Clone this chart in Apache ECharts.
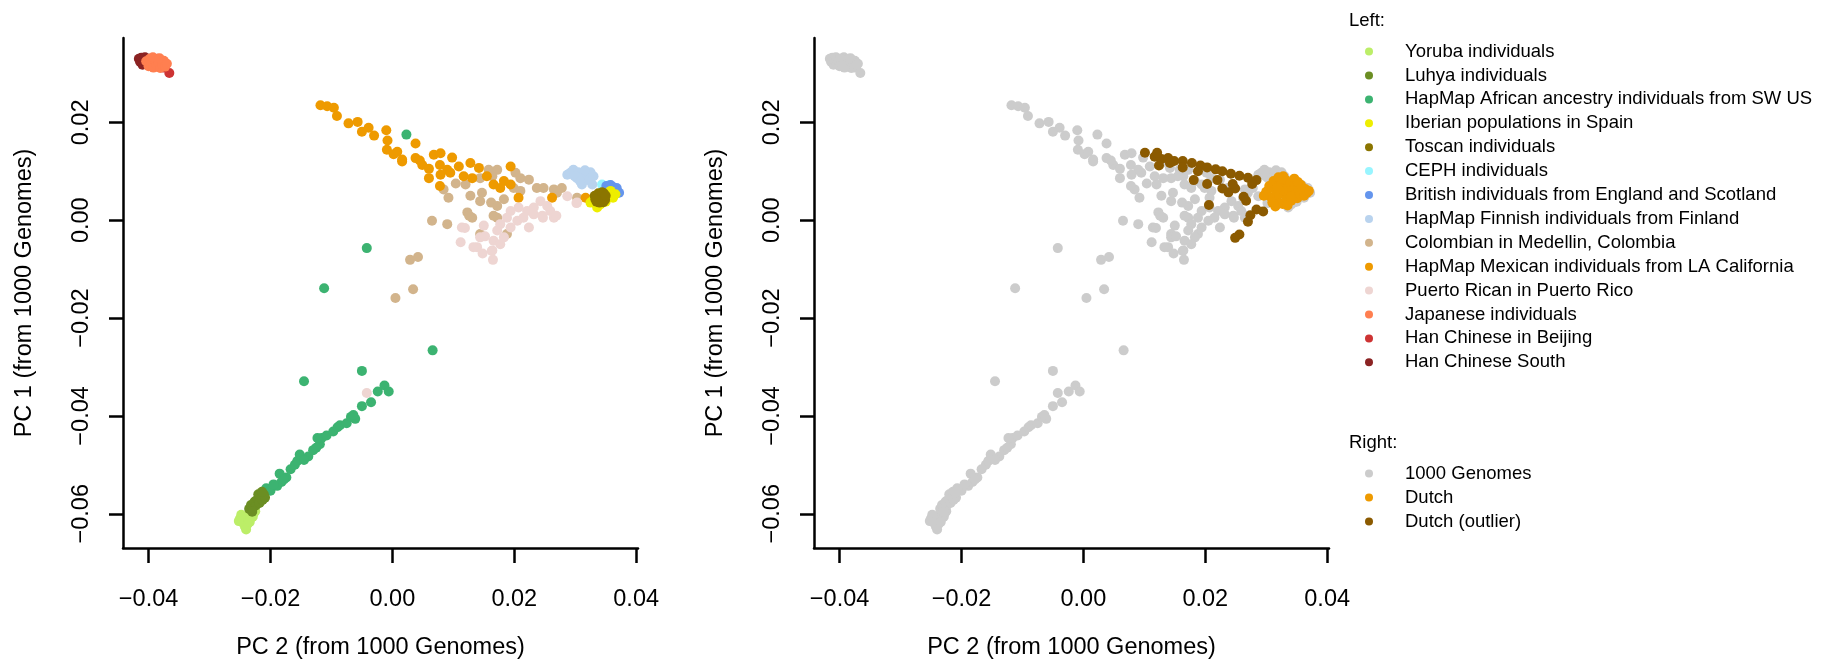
<!DOCTYPE html>
<html>
<head>
<meta charset="utf-8">
<script src="https://cdn.jsdelivr.net/npm/echarts@6/dist/echarts.min.js"></script>
<style>
  html, body { margin: 0; padding: 0; background: #fff; }
  #chart { width: 1822px; height: 665px; }
</style>
</head>
<body>
<div id="chart"></div>
<script>
// tick labels
var xTicks = [-0.04, -0.02, 0, 0.02, 0.04];
var yTicks = [-0.06, -0.04, -0.02, 0, 0.02];

// PC2 (x), PC1 (y) per population
var yoruba = [[-0.0250,-0.0610],[-0.0246,-0.0618],[-0.0244,-0.0606],[-0.0240,-0.0612],[-0.0238,-0.0622],[-0.0236,-0.0603],[-0.0233,-0.0610],[-0.0231,-0.0600],[-0.0229,-0.0606],[-0.0227,-0.0598],[-0.0242,-0.0626],[-0.0240,-0.0632],[-0.0248,-0.0602],[-0.0234,-0.0617],[-0.0225,-0.0595],[-0.0252,-0.0615]];
var luhya = [[-0.0235,-0.0590],[-0.0232,-0.0582],[-0.0229,-0.0588],[-0.0226,-0.0575],[-0.0224,-0.0583],[-0.0221,-0.0570],[-0.0218,-0.0578],[-0.0216,-0.0565],[-0.0213,-0.0572],[-0.0211,-0.0560],[-0.0209,-0.0567],[-0.0230,-0.0596],[-0.0220,-0.0560],[-0.0214,-0.0555]];
var asw = [[-0.0207,-0.0548],[-0.0200,-0.0553],[-0.0189,-0.0543],[-0.0182,-0.0535],[-0.0174,-0.0526],[-0.0185,-0.0518],[-0.0178,-0.0530],[-0.0167,-0.0509],[-0.0160,-0.0500],[-0.0156,-0.0492],[-0.0152,-0.0479],[-0.0138,-0.0483],[-0.0145,-0.0490],[-0.0130,-0.0470],[-0.0119,-0.0458],[-0.0125,-0.0465],[-0.0116,-0.0445],[-0.0123,-0.0445],[-0.0108,-0.0440],[-0.0097,-0.0432],[-0.0090,-0.0423],[-0.0086,-0.0419],[-0.0075,-0.0415],[-0.0068,-0.0402],[-0.0061,-0.0406],[-0.0064,-0.0398],[-0.0050,-0.0380],[-0.0035,-0.0372],[-0.0024,-0.0350],[-0.0013,-0.0338],[-0.0006,-0.0350],[-0.0050,-0.0308],[-0.0145,-0.0329],[-0.0112,-0.0139],[-0.0042,-0.0057],[0.0023,0.0175],[0.0066,-0.0266],[-0.0210,-0.0556],[-0.0195,-0.0540]];
var iberian = [[0.0325,0.0036],[0.0336,0.0026],[0.0341,0.0032],[0.0355,0.0049],[0.0358,0.0060],[0.0366,0.0053],[0.0362,0.0046],[0.0330,0.0042],[0.0350,0.0038]];
var toscan = [[0.0332,0.0050],[0.0336,0.0044],[0.0338,0.0055],[0.0341,0.0040],[0.0343,0.0050],[0.0345,0.0046],[0.0347,0.0055],[0.0349,0.0042],[0.0340,0.0036],[0.0335,0.0038],[0.0346,0.0037],[0.0339,0.0048],[0.0344,0.0057],[0.0350,0.0050],[0.0333,0.0043]];
var ceph = [[0.0344,0.0073],[0.0350,0.0068],[0.0356,0.0072],[0.0360,0.0066]];
var british = [[0.0351,0.0070],[0.0358,0.0072],[0.0362,0.0068],[0.0366,0.0063],[0.0369,0.0058],[0.0372,0.0056],[0.0364,0.0052],[0.0368,0.0066],[0.0356,0.0064]];
var finnish = [[0.0287,0.0093],[0.0292,0.0097],[0.0297,0.0103],[0.0303,0.0086],[0.0305,0.0098],[0.0311,0.0073],[0.0313,0.0090],[0.0319,0.0093],[0.0322,0.0082],[0.0328,0.0073],[0.0330,0.0090],[0.0325,0.0098],[0.0316,0.0102],[0.0299,0.0090],[0.0308,0.0080]];
var colombian = [[0.0158,0.0103],[0.0172,0.0103],[0.0164,0.0090],[0.0144,0.0086],[0.0120,0.0073],[0.0147,0.0056],[0.0144,0.0039],[0.0162,0.0036],[0.0172,0.0029],[0.0183,0.0043],[0.0202,0.0097],[0.0210,0.0086],[0.0224,0.0083],[0.0199,0.0066],[0.0210,0.0060],[0.0237,0.0066],[0.0248,0.0066],[0.0265,0.0063],[0.0278,0.0066],[0.0270,0.0056],[0.0303,0.0046],[0.0123,0.0016],[0.0131,0.0005],[0.0090,-0.0008],[0.0065,-0.0001],[0.0172,0.0005],[0.0144,-0.0028],[0.0092,0.0046],[0.0084,0.0063],[0.0188,-0.0028],[0.0029,-0.0081],[0.0042,-0.0075],[0.0034,-0.0141],[0.0005,-0.0159],[0.0166,0.0009],[0.0126,0.0009],[0.0104,0.0075],[0.0128,0.0050]];
var mexican = [[-0.0118,0.0235],[-0.0107,0.0233],[-0.0096,0.0230],[-0.0091,0.0213],[-0.0072,0.0198],[-0.0057,0.0201],[-0.0039,0.0189],[-0.0050,0.0181],[-0.0030,0.0173],[-0.0010,0.0184],[-0.0008,0.0163],[-0.0009,0.0144],[0.0002,0.0135],[0.0008,0.0140],[0.0016,0.0120],[0.0038,0.0157],[0.0016,0.0124],[0.0038,0.0127],[0.0049,0.0113],[0.0068,0.0134],[0.0079,0.0137],[0.0098,0.0128],[0.0078,0.0113],[0.0090,0.0103],[0.0079,0.0093],[0.0109,0.0110],[0.0128,0.0117],[0.0142,0.0107],[0.0117,0.0090],[0.0131,0.0086],[0.0155,0.0090],[0.0166,0.0073],[0.0183,0.0080],[0.0194,0.0110],[0.0177,0.0066],[0.0194,0.0073],[0.0207,0.0046],[0.0262,0.0046],[0.0317,0.0046],[0.0078,0.0070],[0.0060,0.0086],[0.0095,0.0097],[0.0045,0.0122],[0.0060,0.0105]];
var puertoRican = [[0.0287,0.0049],[0.0303,0.0036],[0.0243,0.0039],[0.0254,0.0029],[0.0232,0.0026],[0.0221,0.0019],[0.0207,0.0026],[0.0194,0.0019],[0.0188,0.0005],[0.0177,-0.0008],[0.0172,-0.0021],[0.0205,-0.0001],[0.0215,0.0005],[0.0232,0.0012],[0.0246,0.0009],[0.0259,0.0019],[0.0265,0.0005],[0.0224,-0.0015],[0.0194,-0.0015],[0.0183,-0.0035],[0.0166,-0.0042],[0.0177,-0.0049],[0.0150,-0.0011],[0.0144,-0.0035],[0.0139,-0.0055],[0.0114,-0.0015],[0.0112,-0.0045],[0.0164,-0.0062],[0.0133,-0.0055],[0.0148,-0.0068],[0.0163,-0.0063],[0.0165,-0.0081],[0.0119,-0.0016],[0.0152,-0.0033],[0.0269,0.0009],[0.0247,0.0005],[0.0302,0.0035],[-0.0042,-0.0353]];
var japanese = [[-0.0404,0.0325],[-0.0400,0.0315],[-0.0398,0.0330],[-0.0395,0.0320],[-0.0392,0.0312],[-0.0390,0.0327],[-0.0387,0.0318],[-0.0384,0.0324],[-0.0381,0.0311],[-0.0378,0.0319],[-0.0375,0.0326],[-0.0373,0.0314],[-0.0393,0.0333],[-0.0382,0.0331],[-0.0370,0.0320]];
var hanBeijing = [[-0.0400,0.0322],[-0.0396,0.0328],[-0.0392,0.0318],[-0.0388,0.0325],[-0.0384,0.0315],[-0.0380,0.0322],[-0.0376,0.0312],[-0.0372,0.0318],[-0.0366,0.0301],[-0.0385,0.0330]];
var hanSouth = [[-0.0416,0.0330],[-0.0414,0.0324],[-0.0412,0.0332],[-0.0410,0.0318],[-0.0408,0.0327],[-0.0406,0.0333],[-0.0404,0.0320],[-0.0402,0.0326],[-0.0399,0.0330],[-0.0396,0.0316]];

var dutch = [[0.0300,0.0058],[0.0305,0.0070],[0.0308,0.0047],[0.0312,0.0080],[0.0315,0.0062],[0.0318,0.0040],[0.0320,0.0088],[0.0322,0.0053],[0.0325,0.0072],[0.0327,0.0033],[0.0330,0.0060],[0.0332,0.0082],[0.0334,0.0045],[0.0336,0.0068],[0.0338,0.0055],[0.0340,0.0076],[0.0341,0.0040],[0.0343,0.0062],[0.0345,0.0050],[0.0347,0.0070],[0.0349,0.0058],[0.0351,0.0045],[0.0353,0.0066],[0.0355,0.0054],[0.0357,0.0072],[0.0359,0.0060],[0.0362,0.0050],[0.0364,0.0064],[0.0367,0.0056],[0.0370,0.0060],[0.0310,0.0036],[0.0328,0.0090],[0.0346,0.0085],[0.0335,0.0030],[0.0296,0.0050],[0.0318,0.0066],[0.0340,0.0048],[0.0352,0.0078],[0.0325,0.0085],[0.0315,0.0028]];
var dutchOutlier = [[0.0101,0.0138],[0.0117,0.0130],[0.0128,0.0125],[0.0139,0.0127],[0.0149,0.0121],[0.0163,0.0121],[0.0178,0.0117],[0.0192,0.0112],[0.0203,0.0108],[0.0217,0.0104],[0.0228,0.0100],[0.0242,0.0095],[0.0256,0.0091],[0.0270,0.0087],[0.0284,0.0082],[0.0124,0.0112],[0.0142,0.0117],[0.0181,0.0082],[0.0203,0.0074],[0.0228,0.0065],[0.0238,0.0057],[0.0249,0.0065],[0.0263,0.0048],[0.0267,0.0040],[0.0206,0.0031],[0.0284,0.0022],[0.0274,0.0010],[0.0295,0.0018],[0.0270,-0.0003],[0.0256,-0.0029],[0.0249,-0.0036],[0.0277,0.0074],[0.0163,0.0108],[0.0188,0.0100],[0.0220,0.0082],[0.0245,0.0074],[0.0121,0.0138]];

var leftNames = ['Yoruba individuals', 'Luhya individuals', 'HapMap African ancestry individuals from SW US',
  'Iberian populations in Spain', 'Toscan individuals', 'CEPH individuals',
  'British individuals from England and Scotland', 'HapMap Finnish individuals from Finland',
  'Colombian in Medellin, Colombia', 'HapMap Mexican individuals from LA California',
  'Puerto Rican in Puerto Rico', 'Japanese individuals', 'Han Chinese in Beijing', 'Han Chinese South'];
var leftData = [yoruba, luhya, asw, iberian, toscan, ceph, british, finnish, colombian, mexican, puertoRican, japanese, hanBeijing, hanSouth];
var leftColors = ['#BCEE68', '#6B8E23', '#3CB371', '#EEEE00', '#8B7500', '#98F5FF', '#6495ED', '#B9D3EE',
  '#D2B48C', '#EE9A00', '#EED5D2', '#FF7F50', '#CD3333', '#8B2323'];
var leftZ = [2, 3, 2, 3, 4, 1, 1, 1, 2, 2, 2, 4, 2, 3];

var rightNames = ['1000 Genomes', 'Dutch', 'Dutch (outlier)'];
var rightData = [[].concat.apply([], leftData), dutch, dutchOutlier];
var rightColors = ['#CCCCCC', '#EE9A00', '#8B5A00'];

var font = '"Liberation Sans", Arial, sans-serif';
var chart = echarts.init(document.getElementById('chart'), null, { renderer: 'canvas' });

function tickText(v) {
  return (v < 0 ? '\u2212' : '') + Math.abs(v).toFixed(2);
}

function makeX(idx) {
  return {
    type: 'value', gridIndex: idx, min: -0.0442, max: 0.0403,
    name: 'PC 2 (from 1000 Genomes)', nameLocation: 'middle', nameGap: 88,
    nameTextStyle: { fontFamily: font, fontSize: 23.5, color: '#000' },
    splitLine: { show: false },
    axisLine: { onZero: false, lineStyle: { color: '#000', width: 2.5 } },
    axisTick: { customValues: xTicks, length: 15, lineStyle: { color: '#000', width: 2.5 } },
    axisLabel: { customValues: xTicks, formatter: tickText, margin: 40, fontFamily: font, fontSize: 23.5, color: '#000' }
  };
}
function makeY(idx) {
  return {
    type: 'value', gridIndex: idx, min: -0.067, max: 0.03725,
    name: 'PC 1 (from 1000 Genomes)', nameLocation: 'middle', nameGap: 86,
    nameTextStyle: { fontFamily: font, fontSize: 23.5, color: '#000' },
    splitLine: { show: false },
    axisLine: { onZero: false, lineStyle: { color: '#000', width: 2.5 } },
    axisTick: { customValues: yTicks, length: 14, lineStyle: { color: '#000', width: 2.5 } },
    axisLabel: { customValues: yTicks, formatter: tickText, rotate: 90, margin: 29, fontFamily: font, fontSize: 23.5, color: '#000' }
  };
}

var series = [];
leftNames.forEach(function(n, i) {
  series.push({
    name: n, type: 'scatter', xAxisIndex: 0, yAxisIndex: 0, z: leftZ[i],
    data: leftData[i], symbolSize: 10, itemStyle: { color: leftColors[i], opacity: 1 }
  });
});
rightNames.forEach(function(n, i) {
  series.push({
    name: n, type: 'scatter', xAxisIndex: 1, yAxisIndex: 1, z: 2 + i,
    data: rightData[i], symbolSize: 10, itemStyle: { color: rightColors[i], opacity: 1 }
  });
});

var legendBase = {
  orient: 'vertical', left: 1365, padding: 0, icon: 'circle',
  itemWidth: 62, itemHeight: 8, selectedMode: false,
  textStyle: { fontFamily: font, fontSize: 18.5, lineHeight: 20, color: '#000' }
};

chart.setOption({
  animation: false,
  backgroundColor: '#fff',
  title: [
    { text: 'Left:', left: 1349, top: 11, padding: 0, textStyle: { fontFamily: font, fontSize: 18.5, lineHeight: 20, fontWeight: 'normal', color: '#000' } },
    { text: 'Right:', left: 1349, top: 433, padding: 0, textStyle: { fontFamily: font, fontSize: 18.5, lineHeight: 20, fontWeight: 'normal', color: '#000' } }
  ],
  legend: [
    Object.assign({}, legendBase, { data: leftNames, top: 41.6, itemGap: 3.9 }),
    Object.assign({}, legendBase, { data: rightNames, top: 463.5, itemGap: 4 })
  ],
  grid: [
    { left: 123, top: 38, width: 515, height: 515 },
    { left: 814, top: 38, width: 515, height: 515 }
  ],
  xAxis: [makeX(0), makeX(1)],
  yAxis: [makeY(0), makeY(1)],
  series: series
});
window.addEventListener('resize', function() { chart.resize(); });
</script>
</body>
</html>
